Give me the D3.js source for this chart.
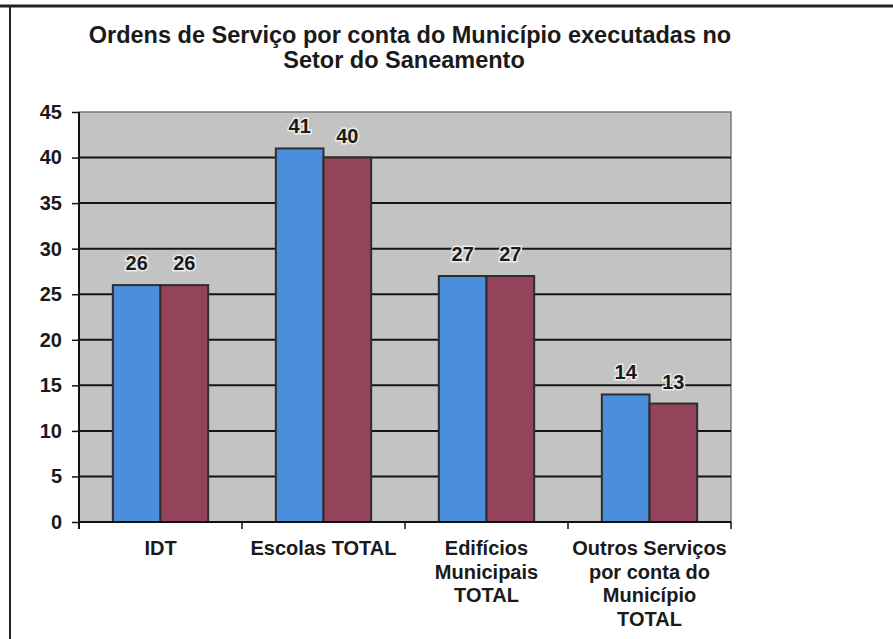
<!DOCTYPE html>
<html>
<head>
<meta charset="utf-8">
<script src="https://cdn.jsdelivr.net/npm/d3@7"></script>
<style>
  body { margin: 0; background: #fff; }
  text { font-family: "Liberation Sans", Arial, sans-serif; fill: #1a1a1a; }
</style>
</head>
<body>
<div id="chart_div"></div>
<script>
// data
const categories = ["IDT", "Escolas TOTAL", "Edifícios Municipais TOTAL", "Outros Serviços por conta do Município TOTAL"];
const categoryLines = [
    ["IDT"],
    ["Escolas TOTAL"],
    ["Edifícios", "Municipais", "TOTAL"],
    ["Outros Serviços", "por conta do", "Município", "TOTAL"]
];
const series1 = [26, 41, 27, 14];
const series2 = [26, 40, 27, 13];
const yTicks = [0, 5, 10, 15, 20, 25, 30, 35, 40, 45];
const titleLines = ["Ordens de Serviço por conta do Município executadas no", "Setor do Saneamento"];

const WIDTH = 893;
const HEIGHT = 639;
const PLOT_LEFT = 79;
const PLOT_RIGHT = 731;
const PLOT_TOP = 112;
const PLOT_BOTTOM = 522;

var svg = d3.select("#chart_div")
    .append("svg")
    .attr("width", WIDTH)
    .attr("height", HEIGHT);

// page frame lines from the scan
svg.append("line")
    .attr("x1", 0).attr("x2", WIDTH)
    .attr("y1", 6).attr("y2", 6)
    .attr("stroke", "#222").attr("stroke-width", 3);
svg.append("line")
    .attr("x1", 10).attr("x2", 10)
    .attr("y1", 6).attr("y2", HEIGHT)
    .attr("stroke", "#222").attr("stroke-width", 2);

// title
svg.append("g")
    .selectAll("text")
    .data(titleLines)
    .enter()
    .append("text")
    .attr("x", (d, i) => i === 0 ? 410 : 404)
    .attr("y", (d, i) => 43 + i * 25)
    .attr("text-anchor", "middle")
    .style("font-size", "23.5px")
    .style("font-weight", "bold")
    .text(d => d);

var x = d3.scaleBand()
    .domain(categories)
    .range([PLOT_LEFT, PLOT_RIGHT])
    .padding(0);

var xInner = d3.scaleBand()
    .domain([0, 1])
    .range([0, x.bandwidth()])
    .paddingInner(0)
    .paddingOuter(0.71);

var y = d3.scaleLinear()
    .domain([0, 45])
    .range([PLOT_BOTTOM, PLOT_TOP]);

// plot area
svg.append("rect")
    .attr("x", PLOT_LEFT)
    .attr("y", PLOT_TOP)
    .attr("width", PLOT_RIGHT - PLOT_LEFT)
    .attr("height", PLOT_BOTTOM - PLOT_TOP)
    .attr("fill", "#c3c3c3")
    .attr("stroke", "#7a7a7a")
    .attr("stroke-width", 1.5);

// gridlines
svg.append("g")
    .selectAll("line")
    .data(yTicks.filter(d => d > 0 && d < 45))
    .enter()
    .append("line")
    .attr("x1", PLOT_LEFT)
    .attr("x2", PLOT_RIGHT)
    .attr("y1", d => y(d))
    .attr("y2", d => y(d))
    .attr("stroke", "#151515")
    .attr("stroke-width", 2);

// bars
var rows = categories.map((c, i) => ({ cat: c, values: [series1[i], series2[i]] }));
var colors = ["#4b8edb", "#93435a"];

var groups = svg.append("g")
    .selectAll("g")
    .data(rows)
    .enter()
    .append("g")
    .attr("transform", d => "translate(" + x(d.cat) + ",0)");

groups.selectAll("rect")
    .data(d => d.values.map((v, k) => ({ k: k, v: v })))
    .enter()
    .append("rect")
    .attr("x", d => xInner(d.k))
    .attr("y", d => y(d.v))
    .attr("width", xInner.bandwidth())
    .attr("height", d => y(0) - y(d.v))
    .attr("fill", d => colors[d.k])
    .attr("stroke", "#2e2e2e")
    .attr("stroke-width", 2);

// value labels
groups.selectAll("text")
    .data(d => d.values.map((v, k) => ({ k: k, v: v })))
    .enter()
    .append("text")
    .attr("x", d => xInner(d.k) + xInner.bandwidth() / 2)
    .attr("y", d => y(d.v) - 15)
    .attr("text-anchor", "middle")
    .style("font-size", "20px")
    .style("font-weight", "bold")
    .style("paint-order", "stroke")
    .style("stroke", "#ececec")
    .style("stroke-width", "3px")
    .text(d => d.v);

// y axis
var yAxis = svg.append("g")
    .attr("transform", "translate(" + PLOT_LEFT + ",0)")
    .call(d3.axisLeft(y).tickValues(yTicks).tickSize(7).tickPadding(10));
yAxis.select(".domain").remove();
yAxis.selectAll(".tick line").attr("stroke", "#111").attr("stroke-width", 1.5);
yAxis.selectAll(".tick text")
    .attr("fill", "#1a1a1a")
    .style("font-family", "'Liberation Sans', Arial, sans-serif")
    .style("font-size", "20px")
    .style("font-weight", "bold");

svg.append("line")
    .attr("x1", PLOT_LEFT).attr("x2", PLOT_LEFT)
    .attr("y1", PLOT_TOP).attr("y2", PLOT_BOTTOM + 7)
    .attr("stroke", "#111").attr("stroke-width", 2);

// x axis line and category divider ticks
svg.append("line")
    .attr("x1", PLOT_LEFT).attr("x2", PLOT_RIGHT)
    .attr("y1", PLOT_BOTTOM).attr("y2", PLOT_BOTTOM)
    .attr("stroke", "#111").attr("stroke-width", 2);

svg.append("g")
    .selectAll("line")
    .data(categories)
    .enter()
    .append("line")
    .attr("x1", d => x(d) + x.bandwidth())
    .attr("x2", d => x(d) + x.bandwidth())
    .attr("y1", PLOT_BOTTOM)
    .attr("y2", PLOT_BOTTOM + 7)
    .attr("stroke", "#111")
    .attr("stroke-width", 1.5);

// category labels, wrapped as in the original
var catLabels = svg.append("g")
    .selectAll("text")
    .data(categories)
    .enter()
    .append("text")
    .attr("x", d => x(d) + x.bandwidth() / 2)
    .attr("y", 555)
    .attr("text-anchor", "middle")
    .style("font-size", "20px")
    .style("font-weight", "bold");

catLabels.selectAll("tspan")
    .data((d, i) => categoryLines[i])
    .enter()
    .append("tspan")
    .attr("x", function () { return d3.select(this.parentNode).attr("x"); })
    .attr("dy", (d, i) => i === 0 ? 0 : 23.5)
    .text(d => d);
</script>
</body>
</html>
